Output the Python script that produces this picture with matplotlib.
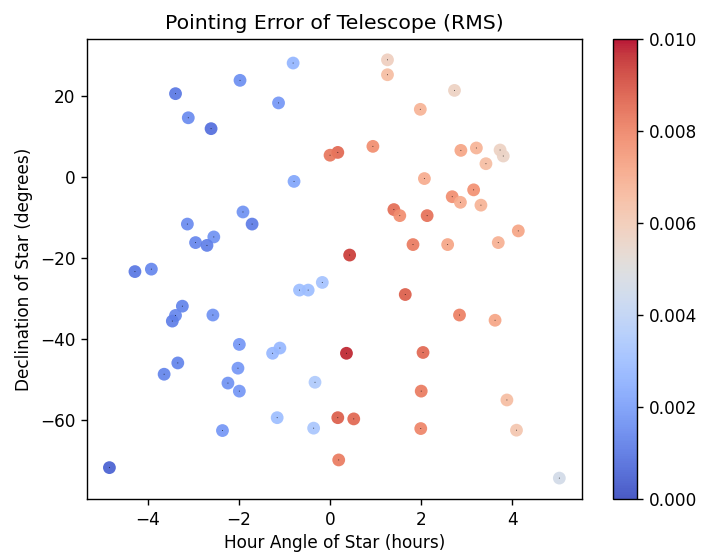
import matplotlib
matplotlib.use("Agg")
import matplotlib.pyplot as plt
import matplotlib.ticker as mticker

hour_angle = [-0.81, -1.975, -3.39, -3.11, -2.61, -1.13, -0.79, -1.91, -3.13, -1.71,
              -2.55, -2.95, -2.70, -4.28, -3.92, -0.67, -0.48, -0.17, -3.24, -3.39,
              -3.46, -2.57, -1.99, -1.10, -1.26, -3.34, -3.64, -2.02, -2.24, -1.99,
              -0.33, -1.16, -0.36, -2.36, -4.84,
              1.26, 1.26, 2.73, 1.98, 0.94, 0.17, 0.00, 2.87, 3.21, 3.73,
              3.80, 3.42, 2.07, 3.15, 2.68, 2.86, 3.31, 1.40, 1.53, 2.13,
              4.13, 1.82, 2.58, 3.69, 0.43, 1.65, 2.84, 3.62, 0.36, 2.04,
              2.00, 3.88, 0.17, 0.52, 1.99, 4.09, 0.19, 5.03]
declination = [28.03, 23.77, 20.49, 14.55, 11.87, 18.21, -1.12, -8.65, -11.63, -11.63,
               -14.80, -16.19, -16.88, -23.33, -22.73, -27.89, -27.89, -26.00, -31.85, -34.13,
               -35.52, -34.03, -41.27, -42.16, -43.45, -45.83, -48.61, -47.12, -50.79, -52.77,
               -50.59, -59.31, -61.89, -62.48, -71.61,
               28.82, 25.15, 21.29, 16.63, 7.51, 6.02, 5.33, 6.52, 7.11, 6.61,
               5.13, 3.24, -0.42, -3.20, -4.89, -6.27, -6.97, -8.06, -9.55, -9.55,
               -13.31, -16.68, -16.68, -16.19, -19.26, -28.98, -34.03, -35.32, -43.45, -43.25,
               -52.77, -54.95, -59.31, -59.61, -61.99, -62.39, -69.72, -74.19]
rms_error = [0.0027, 0.0016, 0.0010, 0.0015, 0.0008, 0.0018, 0.0022, 0.0017, 0.0015, 0.0011,
             0.0017, 0.0014, 0.0012, 0.0010, 0.0014, 0.0030, 0.0030, 0.0032, 0.0013, 0.0014,
             0.0012, 0.0017, 0.0018, 0.0028, 0.0028, 0.0013, 0.0013, 0.0018, 0.0017, 0.0018,
             0.0035, 0.0030, 0.0033, 0.0018, 0.0005,
             0.0058, 0.0065, 0.0057, 0.0068, 0.0078, 0.0086, 0.0083, 0.0072, 0.0068, 0.0057,
             0.0056, 0.0065, 0.0070, 0.0077, 0.0078, 0.0070, 0.0068, 0.0085, 0.0078, 0.0084,
             0.0072, 0.0082, 0.0072, 0.0069, 0.0094, 0.0088, 0.0081, 0.0072, 0.0097, 0.0086,
             0.0082, 0.0065, 0.0088, 0.0086, 0.0080, 0.0062, 0.0082, 0.0046]
cbar_ticks = [0, 0.002, 0.004, 0.006, 0.008, 0.010]

fig = plt.figure(figsize=(7.01, 5.56), dpi=100)
ax = fig.add_axes([0.124, 0.1025, 0.706, 0.8275])
cax = fig.add_axes([0.8745, 0.1025, 0.0342, 0.8275])

sc = ax.scatter(hour_angle, declination, c=rms_error, cmap='coolwarm',
                vmin=0, vmax=0.01, s=85, alpha=0.92, edgecolors='none')
ax.scatter(hour_angle, declination, c='black', s=2.0, marker='.', alpha=0.8,
           edgecolors='none')

for s in ax.spines.values():
    s.set_linewidth(1.0)
ax.set_title("Pointing Error of Telescope (RMS)", fontsize=14.7, pad=7)
ax.set_xlabel("Hour Angle of Star (hours)", fontsize=12.2, labelpad=4)
ax.set_ylabel("Declination of Star (degrees)", fontsize=12.2, labelpad=5)
ax.tick_params(labelsize=12.2, length=4.3, width=1.0, pad=4)

cb = fig.colorbar(sc, cax=cax)
cb.set_ticks(cbar_ticks)
cb.ax.tick_params(labelsize=12.2, length=4.3, width=1.0, pad=4)
cb.outline.set_linewidth(1.0)
cb.ax.yaxis.set_major_formatter(mticker.FormatStrFormatter('%.3f'))

fig.savefig("out.png", dpi=100)
